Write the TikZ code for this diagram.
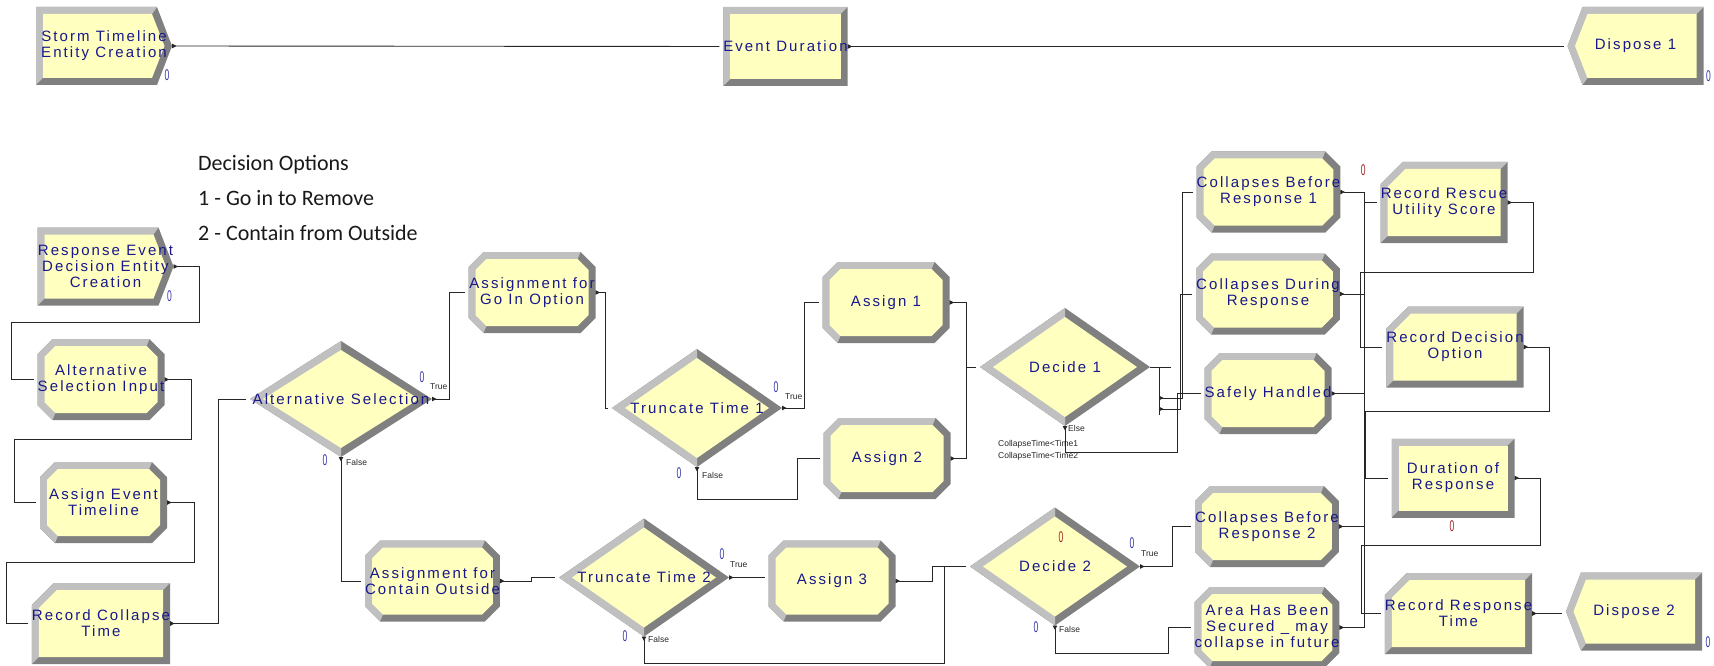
\documentclass[tikz,border=0pt]{standalone}
\usepackage{fontspec}
\usepackage{graphicx}
\usetikzlibrary{arrows.meta,calc}

\newfontfamily\modfont[LetterSpace=14]{Liberation Sans}
\newfontfamily\notefont{Carlito}
\newfontfamily\tagfont{Liberation Sans}

\definecolor{boxfill}{RGB}{255,255,192}
\definecolor{bevlight}{RGB}{192,192,192}
\definecolor{bevdark}{RGB}{128,128,128}
\definecolor{arenablue}{RGB}{24,24,140}
\definecolor{cntblue}{RGB}{50,50,170}
\definecolor{cntred}{RGB}{160,30,30}

\newcommand\zerocnt{\scalebox{0.55}[1]{0}}
\newcommand\boxcorners{\path
  (path picture bounding box.south west) coordinate (bsw)
  (path picture bounding box.south east) coordinate (bse)
  (path picture bounding box.north west) coordinate (bnw)
  (path picture bounding box.north east) coordinate (bne)
  (path picture bounding box.west) coordinate (bw)
  (path picture bounding box.east) coordinate (be)
  (path picture bounding box.north) coordinate (bn)
  (path picture bounding box.south) coordinate (bs);}

\tikzset{
  module/.style={rectangle,inner sep=0pt,outer sep=0pt,
    text=arenablue,align=center,
    font=\modfont\fontsize{15}{16}\selectfont},
  assignbox/.style={module,minimum width=127pt,minimum height=81pt,
    path picture={\boxcorners
      \fill[bevdark] ([xshift=15pt]bsw) -- ([xshift=-15pt]bse) -- ([yshift=15pt]bse)
        -- ([yshift=-15pt]bne) -- ([xshift=-15pt]bne) -- ([xshift=15pt]bnw)
        -- ([yshift=-15pt]bnw) -- ([yshift=15pt]bsw) -- cycle;
      \fill[bevlight] ([yshift=15pt]bsw) -- ([yshift=-15pt]bnw) -- ([xshift=15pt]bnw)
        -- ([xshift=-15pt]bne) -- ([shift={(-17.9pt,-7pt)}]bne)
        -- ([shift={(17.9pt,7pt)}]bsw) -- ([xshift=15pt]bsw) -- cycle;
      \fill[boxfill] ([shift={(17.9pt,7pt)}]bsw) -- ([shift={(-17.9pt,7pt)}]bse)
        -- ([shift={(-7pt,17.9pt)}]bse) -- ([shift={(-7pt,-17.9pt)}]bne)
        -- ([shift={(-17.9pt,-7pt)}]bne) -- ([shift={(17.9pt,-7pt)}]bnw)
        -- ([shift={(7pt,-17.9pt)}]bnw) -- ([shift={(7pt,17.9pt)}]bsw) -- cycle;}},
  recordbox/.style={module,minimum width=127pt,minimum height=81pt,
    path picture={\boxcorners
      \fill[bevdark] (bsw) -- (bse) -- (bne) -- ([xshift=22pt]bnw)
        -- ([yshift=-22pt]bnw) -- cycle;
      \fill[bevlight] (bsw) -- ([yshift=-22pt]bnw) -- ([xshift=22pt]bnw) -- (bne)
        -- ([shift={(-7pt,-7pt)}]bne) -- ([shift={(7pt,7pt)}]bsw) -- cycle;
      \fill[boxfill] ([shift={(7pt,7pt)}]bsw) -- ([shift={(-7pt,7pt)}]bse)
        -- ([shift={(-7pt,-7pt)}]bne) -- ([shift={(24.9pt,-7pt)}]bnw)
        -- ([shift={(7pt,-24.9pt)}]bnw) -- cycle;}},
  processbox/.style={module,minimum width=123pt,minimum height=79pt,
    path picture={\boxcorners
      \fill[bevdark] (bsw) rectangle (bne);
      \fill[bevlight] (bsw) -- (bnw) -- (bne) -- ([shift={(-7pt,-7pt)}]bne)
        -- ([shift={(7pt,7pt)}]bsw) -- cycle;
      \fill[boxfill] ([shift={(7pt,7pt)}]bsw) rectangle ([shift={(-7pt,-7pt)}]bne);}},
  createbox/.style={module,minimum width=136pt,minimum height=78pt,
    path picture={\boxcorners
      \fill[bevdark] (bsw) -- ([xshift=-15pt]bse) -- (be) -- ([xshift=-15pt]bne)
        -- (bnw) -- cycle;
      \fill[bevlight] (bsw) -- (bnw) -- ([xshift=-15pt]bne) -- ([shift={(-20pt,-7pt)}]bne)
        -- ([shift={(7pt,7pt)}]bsw) -- cycle;
      \fill[boxfill] ([shift={(7pt,7pt)}]bsw) -- ([shift={(-20pt,7pt)}]bse)
        -- ([xshift=-7.5pt]be) -- ([shift={(-20pt,-7pt)}]bne)
        -- ([shift={(7pt,-7pt)}]bnw) -- cycle;}},
  disposebox/.style={module,minimum width=136pt,minimum height=78pt,
    path picture={\boxcorners
      \fill[bevdark] ([xshift=15pt]bsw) -- (bse) -- (bne) -- ([xshift=15pt]bnw)
        -- (bw) -- cycle;
      \fill[bevlight] ([xshift=15pt]bsw) -- (bw) -- ([xshift=15pt]bnw) -- (bne)
        -- ([shift={(-7pt,-7pt)}]bne) -- ([shift={(20pt,7pt)}]bsw) -- cycle;
      \fill[boxfill] ([shift={(20pt,7pt)}]bsw) -- ([shift={(-7pt,7pt)}]bse)
        -- ([shift={(-7pt,-7pt)}]bne) -- ([shift={(20pt,-7pt)}]bnw)
        -- ([xshift=7.5pt]bw) -- cycle;}},
  decidebox/.style={module,minimum width=170pt,minimum height=118pt,
    path picture={\boxcorners
      \fill[bevdark] (bw) -- (bs) -- (be) -- (bn) -- cycle;
      \fill[bevlight] (bn) -- (bw) -- (bs) -- cycle;
      \fill[boxfill] ([xshift=13pt]bw) -- ([yshift=9pt]bs) -- ([xshift=-13pt]be)
        -- ([yshift=-9pt]bn) -- cycle;}},
  wire/.style={draw=black!85,line width=0.9pt},
  flow/.style={wire,{Triangle[reversed,length=4.5pt,width=4.5pt]}-,shorten >=4pt},
  counter/.style={inner sep=0pt,text=cntblue,
    font=\tagfont\fontsize{15.5}{15.5}\selectfont},
  redcounter/.style={counter,text=cntred},
  flag/.style={inner sep=0pt,anchor=west,text=black!85,
    font=\tagfont\fontsize{8.5}{10}\selectfont},
  note/.style={inner sep=0pt,anchor=base west,text=black!90,
    font=\notefont\fontsize{22}{27}\selectfont}
}

\begin{document}
\begin{tikzpicture}[x=1pt,y=-1pt]
\useasboundingbox (0,0) rectangle (1714,666);

% Storm timeline
\node[createbox] (stc) at (104,46) {Storm Timeline\\Entity Creation};
\node[processbox] (evd) at (785.5,46.5) {Event Duration};
\node[disposebox] (dp1) at (1635.5,46) {Dispose 1};

% Decision options
\node[note] (opt0) at (198,171) {Decision Options};
\node[note] (opt1) at (198,205) {1 - Go in to Remove};
\node[note] (opt2) at (198,240) {2 - Contain from Outside};

% Left column
\node[createbox]
(rec)
at (105.5,266.5)
{Response Event\\Decision Entity\\Creation};
\node[assignbox] (asi) at (101,379.5) {Alternative\\Selection Input};
\node[assignbox] (aet) at (103.5,502.5) {Assign Event\\Timeline};
\node[recordbox] (rct) at (101,623.5) {Record Collapse\\Time};

% Alternatives
\node[decidebox,
minimum width=182pt,
minimum height=116pt]
(als)
at (341,399)
{Alternative Selection};
\node[assignbox] (agi) at (532,292.5) {Assignment for\\Go In Option};
\node[assignbox] (aco) at (432.5,581) {Assignment for\\Contain Outside};
\node[decidebox] (tt1) at (697,408) {Truncate Time 1};
\node[decidebox] (tt2) at (644,577.5) {Truncate Time 2};
\node[assignbox] (as1) at (886,302.5) {Assign 1};
\node[assignbox] (as2) at (887,458.5) {Assign 2};
\node[assignbox] (as3) at (832,581) {Assign 3};
\node[decidebox] (dc1) at (1065,367) {Decide 1};
\node[decidebox] (dc2) at (1055,566.5) {Decide 2};

% Outcomes
\node[assignbox] (cb1) at (1268.5,192) {Collapses Before\\Response 1};
\node[assignbox] (cdr) at (1268,294) {Collapses During\\Response};
\node[assignbox] (sfh) at (1268,393.5) {Safely Handled};
\node[assignbox] (cb2) at (1267,526.5) {Collapses Before\\Response 2};
\node[assignbox] (ahs) at (1267,627.5) {Area Has Been\\Secured \_ may\\collapse in future};

% Records
\node[recordbox] (rru) at (1444,202.5) {Record Rescue\\Utility Score};
\node[recordbox] (rdo) at (1455,347) {Record Decision\\Option};
\node[processbox] (dor) at (1453,478) {Duration of\\Response};
\node[recordbox] (rrt) at (1458.5,613.5) {Record Response\\Time};
\node[disposebox] (dp2) at (1634,611.5) {Dispose 2};

% Counters
\foreach \p/\a/\dx/\dy [count=\i] in {
stc/south east/-5/-10, dp1/south east/5/-9, rec/south east/-4/-9,
als/east/-10/-22, als/south/-16/3, tt1/east/-6/-21, tt1/south/-18/6,
tt2/east/-7/-23.5, tt2/south/-19/0, dc2/east/-8/-23.5, dc2/south/-19/2,
dp2/south east/6/-8}
{
\node[counter] (cnt\i) at ([shift={(\dx,\dy)}]\p.\a) {\zerocnt};
}
\node[redcounter] (red1) at ([shift={(6,-29.5)}]dc2.center) {\zerocnt};
\node[redcounter] (red2) at ([shift={(23,19)}]cb1.north east) {\zerocnt};
\node[redcounter] (red3) at ([shift={(-1,9)}]dor.south) {\zerocnt};

% Branch labels
\foreach \p/\a/\dx/\dy/\t [count=\i] in {
als/east/-2/-12/True, als/south/5/5/False,
tt1/east/3/-11/True, tt1/south/5/8/False,
tt2/east/1/-12.5/True, tt2/south/4/3/False,
dc2/east/1/-12.5/True, dc2/south/4/4/False,
dc1/south/3/2/Else}
{
\node[flag] (flag\i) at ([shift={(\dx,\dy)}]\p.\a) {\t};
}
\node[flag] (cond1) at ([shift={(-67,18)}]dc1.south) {CollapseTime<Time1};
\node[flag] (cond2) at ([shift={(-67,30)}]dc1.south) {CollapseTime<Time2};

% Connectors
\draw[flow] (stc.east) -- (evd.west);
\draw[flow] (evd.east) -- (evd.east -| dp1.west);

\draw[flow] (rec.east) -- ++(26,0) -- ++(0,55.5) -| ([xshift=-26pt]asi.west) -- (asi.west);
\draw[flow] (asi.east) -- ++(27,0) -- ++(0,60) -| ([xshift=-26pt]aet.west) -- (aet.west);
\draw[flow] (aet.east) -- ++(27,0) -- ++(0,60) -| ([xshift=-25.5pt]rct.west) -- (rct.west);
\draw[flow] (rct.east) -- ++(48,0) |- (als.west);

\draw[flow] (als.east) -- ++(17,0) |- (agi.west);
\draw[flow] (als.south) |- (aco.west);
\draw[flow] (agi.east) -- ++(10,0) |- (tt1.west);
\draw[flow] (aco.east) -- ++(32,0) |- (tt2.west);
\draw[flow] (tt1.east) -- ++(22,0) |- (as1.west);
\draw[flow] (tt1.south) -- ++(0,32) -| ([xshift=-26pt]as2.west) -- (as2.west);
\draw[flow] (as1.east) -- ++(17,0) |- (dc1.west);
\draw[flow] (as2.east) -- ++(16,0) |- (dc1.west);
\draw[flow] (tt2.east) -- (tt2.east -| as3.west);
\draw[flow] (as3.east) -- ++(37,0) |- (dc2.west);
\draw[flow] (tt2.south) -- ++(0,27) -| ([xshift=-26pt]dc2.west) -- (dc2.west);

% Decide 1 exits
\draw[wire] (dc1.east) -- ++(21,0);
\draw[wire] ([shift={(9,0)}]dc1.east) -- ++(0,48);
\coordinate (dc1a) at ([shift={(9,31)}]dc1.east);
\coordinate (dc1b) at ([shift={(9,42)}]dc1.east);
\draw[flow] (dc1a) -- ++(23,0) |- (cb1.west);
\draw[flow] (dc1b) -- ++(21,0) |- (cdr.west);
\draw[flow] (dc1.south) -- ++(0,26) -| ([xshift=-27pt]sfh.west) -- (sfh.west);

% Decide 2 exits
\draw[flow] (dc2.east) -- ++(32,0) |- (cb2.west);
\draw[flow] (dc2.south) -- ++(0,28) -| ([xshift=-26pt]ahs.west) -- (ahs.west);

% Collector
\coordinate (bus) at ([xshift=24pt]cb1.east);
\draw[flow] (cb1.east) -- (bus) |- (rru.west);
\foreach \m in {cdr,sfh,cb2,ahs}
{
\draw[flow] (\m.east) -- (\m.east -| bus) |- (rru.west);
}

\draw[flow] (rru.east) -- ++(26,0) -- ++(0,70) -| ([xshift=-26pt]rdo.west) -- (rdo.west);
\draw[flow] (rdo.east) -- ++(26,0) -- ++(0,64) -| ([xshift=-26pt]dor.west) -- (dor.west);
\draw[flow] (dor.east) -- ++(26,0) -- ++(0,67) -| ([xshift=-23pt]rrt.west) -- (rrt.west);
\draw[flow] (rrt.east) -- (rrt.east -| dp2.west);

\end{tikzpicture}
\end{document}
